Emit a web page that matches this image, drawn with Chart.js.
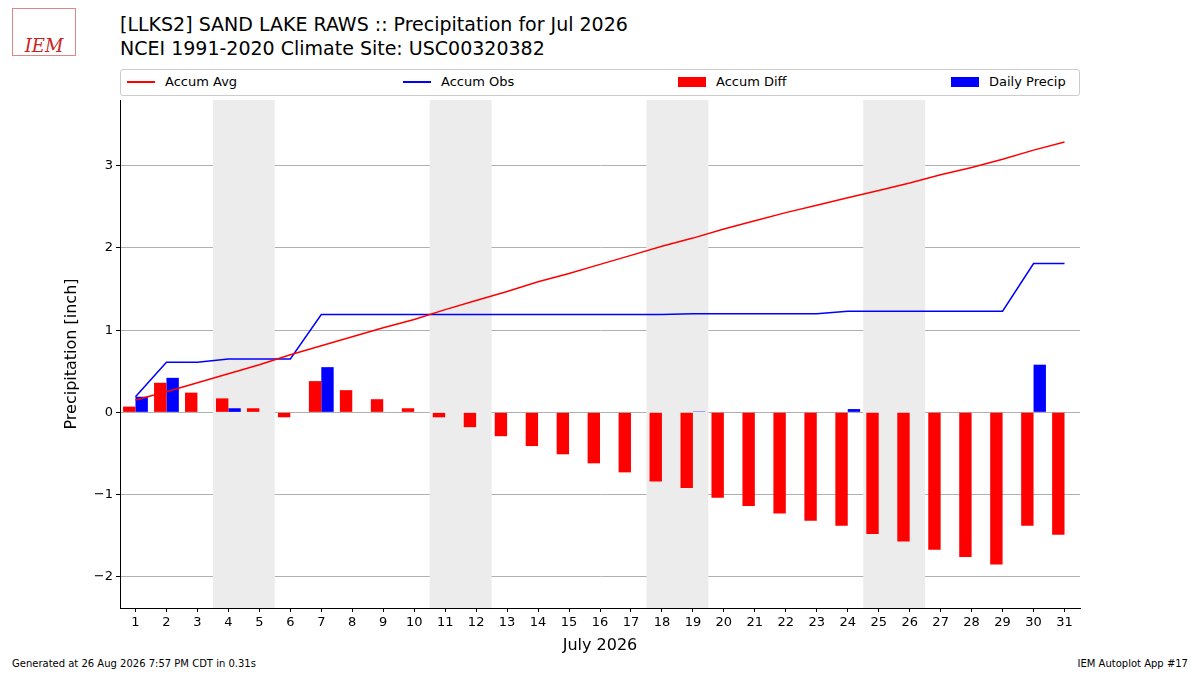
<!DOCTYPE html><html><head><meta charset="utf-8">
<script src="https://cdn.jsdelivr.net/npm/chart.js@4"></script>
<style>body{margin:0;width:1200px;height:675px;position:relative;font-family:"DejaVu Sans",sans-serif;background:#fff;overflow:hidden}
.t{position:absolute;white-space:nowrap;color:#000}
#lg{position:absolute;left:120px;top:69px;width:958px;height:25px;border:1px solid #ccc;border-radius:3px;font-size:13px;background:#fff;z-index:2}
#lg div{position:absolute;top:4px;display:flex;align-items:center}
</style></head><body>
<div class="t" style="left:12px;top:8px;width:64px;height:48px;border:1px solid #d88;color:#c22;font:italic 18px 'DejaVu Serif';padding-top:26px;box-sizing:border-box;text-align:center">IEM</div>
<div class="t" style="left:120px;top:12px;font-size:19px;line-height:24px">[LLKS2] SAND LAKE RAWS :: Precipitation for Jul 2026<br>NCEI 1991-2020 Climate Site: USC00320382</div>
<div id="lg">
<div style="left:6px"><span style="display:inline-block;width:28px;height:2px;background:red;margin-right:10px"></span>Accum Avg</div>
<div style="left:282px"><span style="display:inline-block;width:28px;height:2px;background:blue;margin-right:10px"></span>Accum Obs</div>
<div style="left:557px"><span style="display:inline-block;width:28px;height:10px;background:red;margin-right:10px"></span>Accum Diff</div>
<div style="left:830px"><span style="display:inline-block;width:28px;height:10px;background:blue;margin-right:10px"></span>Daily Precip</div>
</div>
<div class="t" style="left:12px;top:658px;font-size:10px">Generated at 26 Aug 2026 7:57 PM CDT in 0.31s</div>
<div class="t" style="right:12px;top:658px;font-size:10px">IEM Autoplot App #17</div>
<canvas id="c" width="1200" height="675" style="position:absolute;left:0;top:0"></canvas>
<script>
const days=Array.from({length:31},(_,i)=>String(i+1));
const accumAvg=[0.15,0.25,0.36,0.47,0.58,0.70,0.81,0.92,1.03,1.13,1.25,1.36,1.47,1.59,1.69,1.80,1.91,2.02,2.12,2.23,2.33,2.43,2.52,2.61,2.70,2.79,2.89,2.98,3.08,3.19,3.29];
const accumObs=[0.19,0.61,0.61,0.65,0.65,0.65,1.19,1.19,1.19,1.19,1.19,1.19,1.19,1.19,1.19,1.19,1.19,1.19,1.20,1.20,1.20,1.20,1.20,1.23,1.23,1.23,1.23,1.23,1.23,1.81,1.81];
const accumDiff=[0.07,0.36,0.24,0.17,0.05,-0.06,0.38,0.27,0.16,0.05,-0.06,-0.18,-0.29,-0.41,-0.51,-0.62,-0.73,-0.84,-0.92,-1.04,-1.14,-1.23,-1.32,-1.38,-1.48,-1.57,-1.67,-1.76,-1.85,-1.38,-1.49];
const dailyPrecip=[0.19,0.42,0,0.05,0,0,0.55,0,0,0,0,0,0,0,0,0,0,0,0.01,0,0,0,0,0.04,0,0,0,0,0,0.58,0];
const weekends=[[4,5],[11,12],[18,19],[25,26]];
const shade={id:'shade',beforeDatasetsDraw(ch){const x=ch.scales.x,a=ch.chartArea,c=ch.ctx;const w=x.getPixelForValue(1)-x.getPixelForValue(0);c.save();c.fillStyle='#ececec';
weekends.forEach(([s,e])=>{const l=x.getPixelForValue(s-1)-w/2,r=x.getPixelForValue(e-1)+w/2;c.fillRect(l,a.top,r-l,a.bottom-a.top);});c.restore();}};
const F={family:'DejaVu Sans',size:13};
new Chart(document.getElementById('c'),{type:'bar',plugins:[shade],data:{labels:days,datasets:[
{type:'line',data:accumAvg,borderColor:'red',borderWidth:1.5,pointRadius:0,order:0},
{type:'line',data:accumObs,borderColor:'blue',borderWidth:1.5,pointRadius:0,order:0},
{data:accumDiff,backgroundColor:'red',categoryPercentage:0.8,barPercentage:1,order:1},
{data:dailyPrecip,backgroundColor:'blue',categoryPercentage:0.8,barPercentage:1,order:1}]},
options:{responsive:false,animation:false,devicePixelRatio:1,layout:{padding:{left:62,top:100,right:120,bottom:20}},
plugins:{legend:{display:false},tooltip:{enabled:false}},
scales:{x:{grid:{offset:false,drawOnChartArea:false,drawTicks:true,tickLength:4,tickColor:'#000'},border:{color:'#000'},ticks:{color:'#000',font:F,maxRotation:0,autoSkip:false},title:{display:true,text:'July 2026',color:'#000',font:{family:'DejaVu Sans',size:16},padding:0},afterFit(s){s.height=47;}},
y:{min:-2.38,max:3.8,border:{color:'#000'},grid:{color:'#b0b0b0',drawTicks:true,tickLength:4,tickColor:'#000'},ticks:{color:'#000',font:F,stepSize:1,callback:v=>Number.isInteger(v)?(v<0?'\u2212'+(-v):v):null},title:{display:true,text:'Precipitation [inch]',color:'#000',font:{family:'DejaVu Sans',size:16},padding:0},afterFit(s){s.width=58;}}}}});
</script>
</body></html>
